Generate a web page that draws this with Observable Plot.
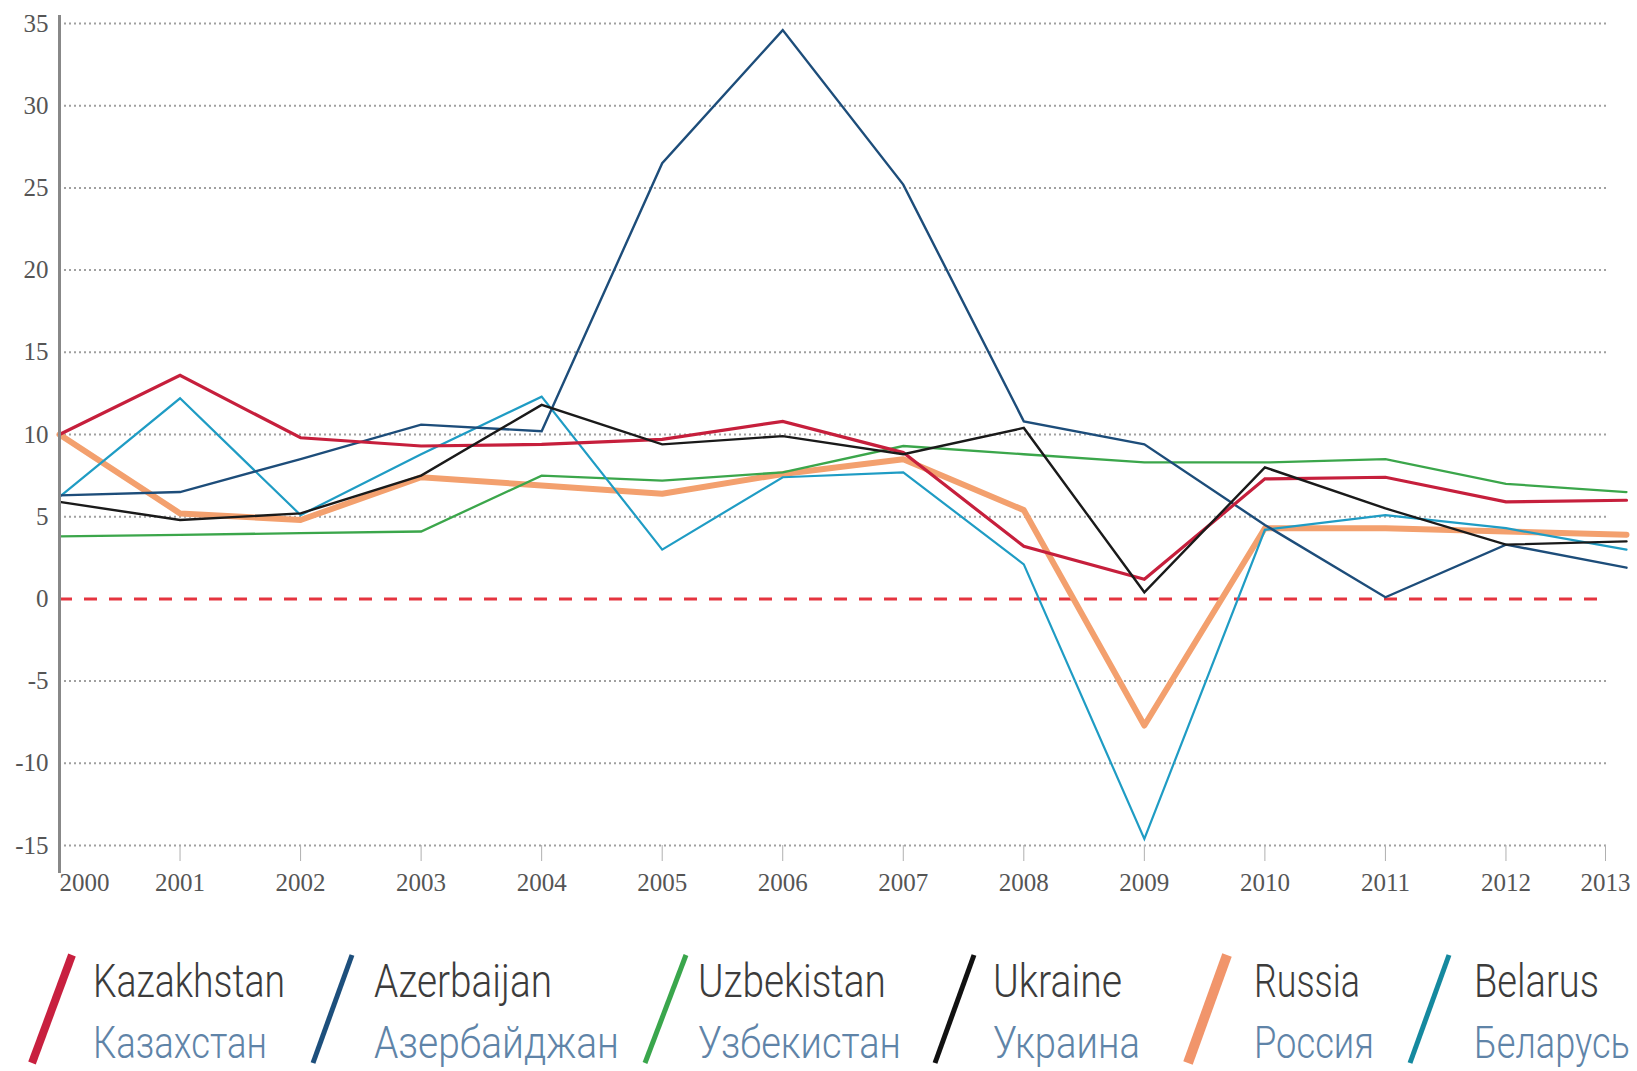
<!DOCTYPE html>
<html>
<head>
<meta charset="utf-8">
<script src="https://cdn.jsdelivr.net/npm/d3@7"></script>
<script src="https://cdn.jsdelivr.net/npm/@observablehq/plot@0.6"></script>
<style>
  html, body { margin: 0; padding: 0; background: #fff; }
  #chart svg { display: block; }
  #legend { display: block; }
</style>
</head>
<body>
<div id="chart"></div>
<svg id="legend" width="1637" height="166"></svg>
<script>
// ---- data ----
const years = [2000, 2001, 2002, 2003, 2004, 2005, 2006, 2007, 2008, 2009, 2010, 2011, 2012, 2013];
const countriesEn = ["Kazakhstan", "Azerbaijan", "Uzbekistan", "Ukraine", "Russia", "Belarus"];
const countriesRu = ["Казахстан", "Азербайджан", "Узбекистан", "Украина", "Россия", "Беларусь"];
const kazakhstan = [10.0, 13.6, 9.8, 9.3, 9.4, 9.7, 10.8, 8.9, 3.2, 1.2, 7.3, 7.4, 5.9, 6.0];
const azerbaijan = [6.3, 6.5, 8.5, 10.6, 10.2, 26.5, 34.6, 25.2, 10.8, 9.4, 4.5, 0.1, 3.3, 1.9];
const uzbekistan = [3.8, 3.9, 4.0, 4.1, 7.5, 7.2, 7.7, 9.3, 8.8, 8.3, 8.3, 8.5, 7.0, 6.5];
const ukraine    = [5.9, 4.8, 5.2, 7.5, 11.8, 9.4, 9.9, 8.8, 10.4, 0.4, 8.0, 5.5, 3.3, 3.5];
const russia     = [10.0, 5.2, 4.8, 7.4, 6.9, 6.4, 7.6, 8.5, 5.4, -7.7, 4.3, 4.3, 4.1, 3.9];
const belarus    = [6.2, 12.2, 5.1, 8.8, 12.3, 3.0, 7.4, 7.7, 2.1, -14.6, 4.2, 5.1, 4.3, 3.0];
const yTicks = [-15, -10, -5, 0, 5, 10, 15, 20, 25, 30, 35];

// ---- styles ----
const colors = {
  Kazakhstan: "#c61f3c",
  Azerbaijan: "#1d4d7a",
  Uzbekistan: "#3ba64b",
  Ukraine: "#1a1a1a",
  Russia: "#f3a06e",
  Belarus: "#1f9cc4"
};
const widths = { Kazakhstan: 3.2, Azerbaijan: 2.4, Uzbekistan: 2.3, Ukraine: 2.4, Russia: 6, Belarus: 2.2 };
const valuesBy = { Kazakhstan: kazakhstan, Azerbaijan: azerbaijan, Uzbekistan: uzbekistan, Ukraine: ukraine, Russia: russia, Belarus: belarus };
const drawOrder = ["Russia", "Uzbekistan", "Belarus", "Azerbaijan", "Kazakhstan", "Ukraine"];

const rows = c => years.map((year, i) => ({ year, value: valuesBy[c][i] }));

const serif = "'Liberation Serif', 'DejaVu Serif', serif";
const midYears = years.slice(1, -1);

const chart = Plot.plot({
  width: 1637,
  height: 905,
  marginLeft: 59,
  marginRight: 11,
  marginTop: 23,
  marginBottom: 60,
  x: { domain: [2000, 2013], label: null },
  y: { domain: [-15, 35], label: null },
  style: { fontFamily: serif, fontSize: "25px", color: "#555", background: "#fff", overflow: "visible" },
  marks: [
    Plot.ruleY(yTicks.filter(d => d !== 0), { stroke: "#a0a0a0", strokeWidth: 2, strokeDasharray: "2,3", insetRight: 20 }),
    Plot.ruleY([0], { stroke: "#e5343f", strokeWidth: 3, strokeDasharray: "13,12", insetRight: 20 }),
    ...drawOrder.map(c => Plot.line(rows(c), {
      x: "year", y: "value",
      stroke: colors[c], strokeWidth: widths[c],
      strokeLinejoin: c === "Russia" ? "round" : "miter", strokeMiterlimit: 10
    })),
    Plot.ruleX([2000], { stroke: "#888", strokeWidth: 3, insetTop: -8, insetBottom: -28 }),
    Plot.axisY({ ticks: yTicks, tickSize: 0, tickPadding: 11, tickFormat: d => String(d), fill: "#555" }),
    Plot.axisX({ ticks: midYears, tickSize: 16, tickPadding: 12, tickFormat: d => String(d), stroke: "#b0b0b0", fill: "#555" }),
    Plot.axisX({ ticks: [2000], tickSize: 0, tickPadding: 28, textAnchor: "start", tickFormat: d => String(d), fill: "#555" }),
    Plot.axisX({ ticks: [2013], tickSize: 16, tickPadding: 12, dx: -21, tickFormat: d => String(d), stroke: "#b0b0b0", fill: "#555" })
  ]
});
document.getElementById("chart").appendChild(chart);

// ---- legend below the chart ----
const legendLayout = [
  { slashTop: 72, slashBottom: 32, textX: 93, w: 8, enW: 192, ruW: 174 },
  { slashTop: 352, slashBottom: 313, textX: 374, w: 5, enW: 178, ruW: 245 },
  { slashTop: 686, slashBottom: 645, textX: 698, w: 5, enW: 188, ruW: 203 },
  { slashTop: 974, slashBottom: 935, textX: 993, w: 5, enW: 129, ruW: 147 },
  { slashTop: 1227, slashBottom: 1188, textX: 1254, w: 10, enW: 106, ruW: 120 },
  { slashTop: 1449, slashBottom: 1410, textX: 1474, w: 5, enW: 125, ruW: 156 }
];
const legendColors = { Kazakhstan: "#c8203f", Azerbaijan: "#1d4f7c", Uzbekistan: "#3aa64c", Ukraine: "#111", Russia: "#f1956b", Belarus: "#15899f" };
const lg = d3.select("#legend");
const sansLight = "Roboto, 'Open Sans', 'DejaVu Sans', sans-serif";

function fittedText(str, x, y, size, fill, targetW) {
  const t = lg.append("text")
    .attr("x", 0).attr("y", 0)
    .attr("font-family", sansLight).attr("font-size", size).attr("font-weight", 300)
    .attr("fill", fill)
    .text(str);
  const natural = t.node().getComputedTextLength() || targetW;
  t.attr("transform", `translate(${x},${y}) scale(${targetW / natural},1)`);
}

countriesEn.forEach((c, i) => {
  const L = legendLayout[i];
  lg.append("line")
    .attr("x1", L.slashTop).attr("y1", 50)
    .attr("x2", L.slashBottom).attr("y2", 158)
    .attr("stroke", legendColors[c]).attr("stroke-width", L.w);
  fittedText(c, L.textX, 92, 47, "#3c3c3c", L.enW);
  fittedText(countriesRu[i], L.textX, 153, 45, "#5f84a8", L.ruW);
});
</script>
</body>
</html>
